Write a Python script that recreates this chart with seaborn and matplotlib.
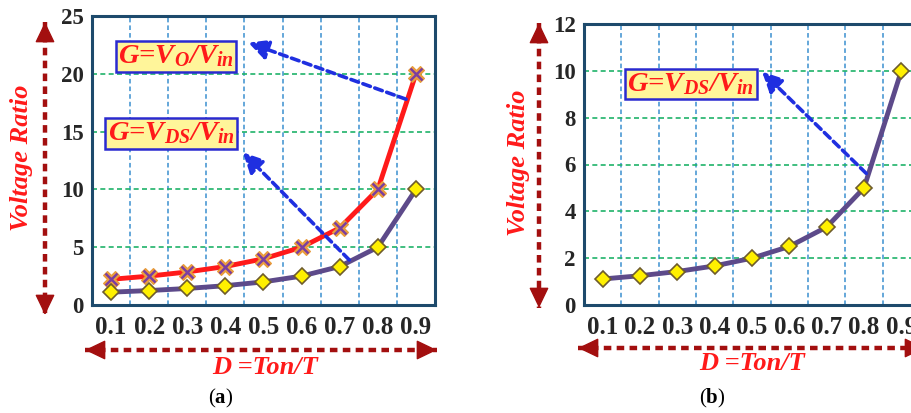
import numpy as np
import matplotlib.pyplot as plt
import seaborn as sns
from matplotlib.lines import Line2D
from matplotlib.patches import FancyArrowPatch

# Datos: razón de tensión frente al ciclo de trabajo
duty = [0.1, 0.2, 0.3, 0.4, 0.5, 0.6, 0.7, 0.8, 0.9]
duty_labels = ['0.1', '0.2', '0.3', '0.4', '0.5', '0.6', '0.7', '0.8', '0.9']
gain_vo = [2.22, 2.5, 2.86, 3.33, 4.0, 5.0, 6.67, 10.0, 20.0]
gain_vds = [1.11, 1.25, 1.43, 1.67, 2.0, 2.5, 3.33, 5.0, 10.0]

# Configuración inicial
sns.set_theme(style='white')
plt.rcParams['font.family'] = ['Liberation Serif', 'DejaVu Serif']
plt.rcParams['mathtext.fontset'] = 'custom'
plt.rcParams['mathtext.it'] = 'Liberation Serif:italic:bold'
plt.rcParams['mathtext.rm'] = 'Liberation Serif:bold'
plt.rcParams['mathtext.bf'] = 'Liberation Serif:bold'

W, H = 912, 413
RED = '#ff1a1a'
DARK_RED = '#a30f0f'
SPINE = '#1d4a6c'
BLUE = '#1f2fe0'

fig = plt.figure(figsize=(W / 100, H / 100), dpi=100)
ax_a = fig.add_axes([92 / W, 1 - 305 / H, 343 / W, 289 / H])
ax_b = fig.add_axes([584 / W, 1 - 305 / H, 336 / W, 281 / H])


def style_axes(ax, ymax, ystep):
    ax.set_xlim(0.05, 0.95)
    ax.set_ylim(0, ymax)
    ax.set_xticks(duty)
    ax.set_xticklabels(duty_labels)
    mids = [(a + b) / 2 for a, b in zip(duty[:-1], duty[1:])]
    ax.set_xticks(mids, minor=True)
    ax.set_yticks(np.arange(0, ymax + 1, ystep))
    ax.grid(False)
    ax.grid(axis='y', which='major', color='#1fb36a', ls=(0, (3, 2)), lw=1.2)
    ax.grid(axis='x', which='minor', color='#3b8fd0', ls=(0, (3, 2)), lw=1.1)
    ax.tick_params(which='both', length=0)
    ax.tick_params(axis='x', labelsize=18, pad=8)
    ax.tick_params(axis='y', labelsize=16.5, pad=6)
    for lab in ax.get_xticklabels() + ax.get_yticklabels():
        lab.set_fontweight('bold')
    for sp in ax.spines.values():
        sp.set_color(SPINE)
        sp.set_linewidth(2.2)
    ax.set_xlabel('')
    ax.set_ylabel('')


def vds_curve(ax):
    sns.lineplot(x=duty, y=gain_vds, ax=ax, color='#5d4a8a', lw=3.5,
                 marker='D', ms=8, mfc='#fff000', mec='#6e5c2c', mew=1.2,
                 zorder=4)


def label_box(ax, x, y, text):
    ax.text(x, y, text, ha='center', va='center', color=RED, fontsize=20.5,
            fontweight='bold', fontstyle='italic', zorder=6,
            bbox=dict(boxstyle='square,pad=0.08', fc='#fff59a', ec='#2a2ad0', lw=1.8))


def blue_arrow(ax, start, head):
    ax.annotate('', xy=head, xytext=start, zorder=5,
                arrowprops=dict(arrowstyle='-|>,head_length=0.6,head_width=0.3',
                                color=BLUE, lw=2.6, ls=(0, (2.2, 1.3)),
                                mutation_scale=20, shrinkA=0, shrinkB=0))


# (a) ambas ganancias
sns.lineplot(x=duty, y=gain_vo, ax=ax_a, color=RED, lw=3.5,
             marker='X', ms=12, mfc='#f0a23c', mec='#e89a38', mew=0.8, zorder=4)
ax_a.plot(duty, gain_vo, ls='none', marker='x', ms=9, mew=1.8, color='#7b3fa0', zorder=5)
vds_curve(ax_a)
style_axes(ax_a, 25, 5)
label_box(ax_a, 0.27, 21.5, 'G=V$_{O}$/V$_{in}$')
label_box(ax_a, 0.258, 14.85, 'G=V$_{DS}$/V$_{in}$')
blue_arrow(ax_a, (0.874, 17.8), (0.46, 22.7))
blue_arrow(ax_a, (0.725, 3.9), (0.446, 13.2))

# (b) solo V_DS
vds_curve(ax_b)
style_axes(ax_b, 12, 2)
label_box(ax_b, 0.336, 9.43, 'G=V$_{DS}$/V$_{in}$')
blue_arrow(ax_b, (0.806, 5.62), (0.527, 9.96))


# Flechas punteadas de los ejes (coordenadas en píxeles de la figura)
def fig_xy(x, y):
    return x / W, 1 - y / H


def axis_arrow(x0, y0, x1, y1, head=14):
    (fx0, fy0), (fx1, fy1) = fig_xy(x0, y0), fig_xy(x1, y1)
    fig.add_artist(Line2D([fx0, fx1], [fy0, fy1], color=DARK_RED, lw=3.2,
                          ls=(0, (1.7, 1.2))))
    length = np.hypot(x1 - x0, y1 - y0)
    ux, uy = (x1 - x0) / length, (y1 - y0) / length
    for (ex, ey), sgn in [((x0, y0), -1), ((x1, y1), 1)]:
        base = fig_xy(ex - sgn * ux * head, ey - sgn * uy * head)
        fig.add_artist(FancyArrowPatch(base, fig_xy(ex, ey), transform=fig.transFigure,
                                       arrowstyle='-|>,head_length=0.5,head_width=0.24',
                                       mutation_scale=26, color=DARK_RED, lw=1,
                                       shrinkA=0, shrinkB=0))


axis_arrow(45, 22, 45, 315)
axis_arrow(85, 350, 437, 350)
axis_arrow(539, 23, 539, 308)
axis_arrow(578, 348, 925, 348)

for x, y in [(22, 158), (518, 163)]:
    fig.text(x / W, 1 - y / H, 'Voltage Ratio', rotation=90, ha='center', va='center',
             color=RED, fontsize=19, fontweight='bold', fontstyle='italic')
for x, y in [(265, 368), (752, 363)]:
    fig.text(x / W, 1 - y / H, 'D =Ton/T', ha='center', va='center',
             color=RED, fontsize=19, fontweight='bold', fontstyle='italic')
for x, tag in [(221, 'a'), (712, 'b')]:
    fig.text(x / W, 1 - 398 / H, '($\\mathbf{%s}$)' % tag, ha='center', va='center',
             color='black', fontsize=15)

plt.savefig('out.png', dpi=100)
plt.close()
